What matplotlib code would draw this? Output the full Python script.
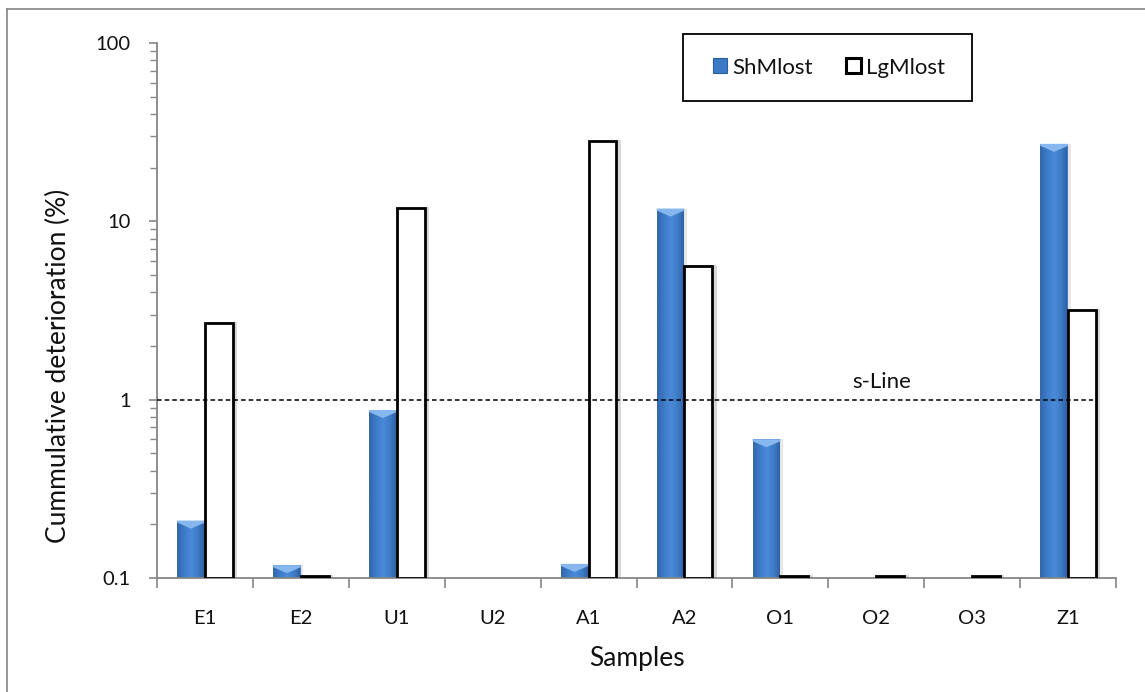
import numpy as np
import matplotlib
matplotlib.use("Agg")
import matplotlib.pyplot as plt
import matplotlib.transforms as mtransforms
from matplotlib.patches import Rectangle, Polygon, Patch
from matplotlib.lines import Line2D
from matplotlib.colors import LinearSegmentedColormap

plt.rcParams['font.family'] = ['Lato', 'DejaVu Sans']

categories = ['E1', 'E2', 'U1', 'U2', 'A1', 'A2', 'O1', 'O2', 'O3', 'Z1']
shm_lost = [0.21, 0.118, 0.875, np.nan, 0.12, 11.8, 0.60, np.nan, np.nan, 27.2]
lgm_lost = [2.7, 0.102, 11.9, np.nan, 28.2, 5.65, 0.102, 0.102, 0.102, 3.2]
series_names = ['ShMlost', 'LgMlost']
s_line_value = 1.0
s_line_label = 's-Line'
y_ticks = [0.1, 1, 10, 100]
y_ticklabels = ['0.1', '1', '10', '100']

W, H = 1145, 692
fig = plt.figure(figsize=(W / 100, H / 100), dpi=100)
ax = fig.add_axes([157 / W, 1 - 578 / H, (1116 - 157) / W, (578 - 43) / H])

ax.set_yscale('log')
ax.set_ylim(0.1, 100)
ax.set_xlim(-0.5, len(categories) - 0.5)

grey = '#868686'
txt = '#111111'
bw = 0.29
off = 0.145
x = np.arange(len(categories))
base = 0.1

shadow_tr = mtransforms.offset_copy(ax.transData, fig=fig, x=2.5, y=0, units='dots')

blue_cmap = LinearSegmentedColormap.from_list(
    'bb', ['#3268ad', '#3f7dca', '#4a8ad8', '#3e7bc6', '#2b5c9c'])

blue_patches = []
for xi, v in zip(x, shm_lost):
    if np.isnan(v):
        continue
    ax.add_patch(Rectangle((xi - off - bw / 2, base), bw, v - base, transform=shadow_tr,
                           facecolor='#d6d6d6', edgecolor='none', alpha=0.6, zorder=1.5))
    bars = ax.bar(xi - off, v - base, bottom=base, width=bw, color='#3c7ac6',
                  edgecolor='none', zorder=2)
    blue_patches.append((bars[0], xi - off, v))

for xi, v in zip(x, lgm_lost):
    if np.isnan(v):
        continue
    ax.add_patch(Rectangle((xi + off - bw / 2, base), bw, v - base, transform=shadow_tr,
                           facecolor='none', edgecolor='#c4c4c4', linewidth=2.0,
                           alpha=0.7, zorder=2.5))
    ax.bar(xi + off, v - base, bottom=base, width=bw, color='white',
           edgecolor='black', linewidth=2.0, zorder=3)

# gradient and bevel for blue bars
grad = np.linspace(0, 1, 64).reshape(1, -1)
inv = ax.transData.inverted()
for patch, xc, v in blue_patches:
    x0, x1 = xc - bw / 2, xc + bw / 2
    im = ax.imshow(grad, extent=[x0, x1, base, v], aspect='auto',
                   cmap=blue_cmap, zorder=2.1, interpolation='bilinear')
    im.set_clip_path(patch)
    top_disp = ax.transData.transform((xc, v))[1]
    y_a = inv.transform((0, top_disp - 2))[1]
    y_b = inv.transform((0, top_disp - 8))[1]
    poly = Polygon([(x0, v), (x1, v), (x1, y_a), (xc, y_b), (x0, y_a)],
                   closed=True, facecolor='#86b8ef', edgecolor='none', zorder=2.2)
    ax.add_patch(poly)
ax.set_xlim(-0.5, len(categories) - 0.5)
ax.set_ylim(0.1, 100)

# s-Line
ax.plot([-0.5, 9.26], [s_line_value, s_line_value], color='black',
        linestyle=(0, (3, 2)), linewidth=1.1, zorder=4)
ax.text(7.06, 1.17, s_line_label, ha='center', va='baseline', fontsize=16, color=txt)

# axes styling
for s in ['top', 'right']:
    ax.spines[s].set_visible(False)
for s in ['left', 'bottom']:
    ax.spines[s].set_color(grey)
    ax.spines[s].set_linewidth(1.3)

ax.set_yticks(y_ticks)
ax.set_yticklabels(y_ticklabels)
ax.yaxis.set_minor_locator(matplotlib.ticker.LogLocator(base=10, subs=np.arange(2, 10)))
ax.yaxis.set_minor_formatter(matplotlib.ticker.NullFormatter())
ax.tick_params(axis='y', which='major', length=6, width=1.2, color=grey,
               labelsize=14.5, pad=13, labelcolor=txt)
ax.tick_params(axis='y', which='minor', length=5, width=1.0, color=grey)

ax.set_xticks(np.arange(-0.5, len(categories), 1.0))
ax.set_xticklabels([])
ax.set_xticks(x, minor=True)
ax.set_xticklabels(categories, minor=True)
ax.tick_params(axis='x', which='major', length=7, width=1.2, color=grey, direction='out')
ax.tick_params(axis='x', which='minor', length=0, labelsize=14.5, pad=23, labelcolor=txt)

ax.set_xlabel('Samples', fontsize=19, labelpad=14, color=txt)
ax.set_ylabel('Cummulative deterioration (%)', fontsize=19, labelpad=17, color=txt)
ax.yaxis.set_label_coords(-0.09, 0.396)

# legend (frame drawn separately)
fig.add_artist(Rectangle((683 / W, 1 - 101 / H), (972 - 683) / W, (101 - 34) / H,
                         transform=fig.transFigure, facecolor='white',
                         edgecolor='black', linewidth=1.3, zorder=5))
handles = [Patch(facecolor='#3c7ac6', edgecolor='#2c5f9f', linewidth=0.8),
           Patch(facecolor='white', edgecolor='black', linewidth=2.2)]
leg = fig.legend(handles, series_names, loc='center',
                 bbox_to_anchor=(829 / W, 1 - 67.5 / H), ncol=2,
                 fontsize=16, frameon=False, borderpad=0,
                 handlelength=0.65, handleheight=0.65, handletextpad=0.25,
                 columnspacing=1.5, borderaxespad=0)
leg.set_zorder(6)
for t in leg.get_texts():
    t.set_color(txt)

# outer frame
fig.add_artist(Line2D([7 / W, 7 / W], [0, 1 - 9 / H], color='#8c8c8c', lw=1.3,
                      transform=fig.transFigure))
fig.add_artist(Line2D([7 / W, 1], [1 - 9 / H, 1 - 9 / H], color='#8c8c8c', lw=1.3,
                      transform=fig.transFigure))

fig.savefig('out.png', dpi=100)
